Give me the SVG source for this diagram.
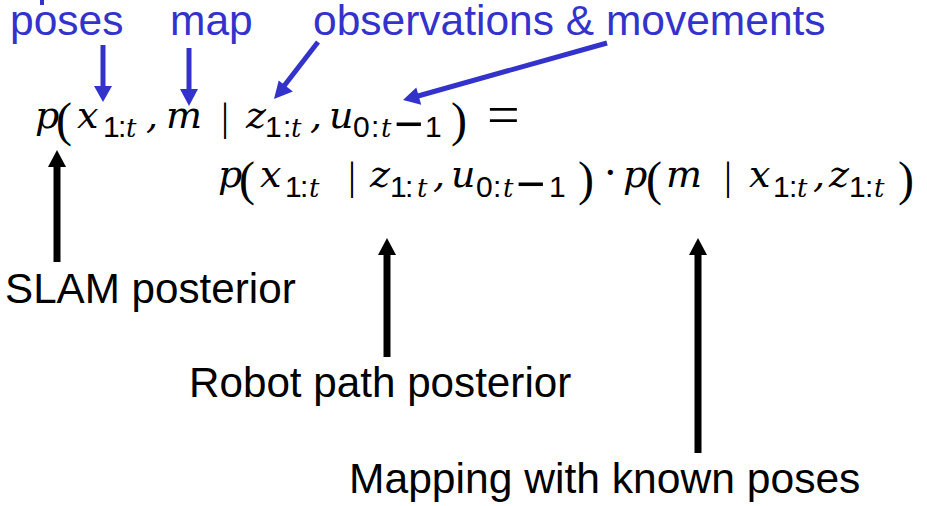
<svg xmlns="http://www.w3.org/2000/svg" width="927" height="506" viewBox="0 0 927 506">
<style>
.lbl{font-family:"Liberation Sans",Arial,sans-serif}
.blue{fill:#3333cc;font-size:42.5px}
.blk{fill:#000;font-size:42.2px}
.math{fill:#000}
.mi{font-family:"DejaVu Serif","Liberation Serif",serif;font-style:italic;font-size:38px}
.mp{font-family:"Liberation Serif","Times New Roman",serif;font-size:48px}
.bar{font-family:"Liberation Serif","Times New Roman",serif;font-size:40px}
.sd{font-family:"Liberation Sans",Arial,sans-serif;font-size:30px}
.st{font-family:"DejaVu Serif","Liberation Serif",serif;font-style:italic;font-size:26px}
.mn{font-family:"Liberation Sans",Arial,sans-serif;font-size:50px}
.eq{font-family:"Liberation Serif","Times New Roman",serif;font-size:58px}
.dot{font-family:"Liberation Serif","Times New Roman",serif;font-size:44px}
.bshaft{stroke:#3333cc;stroke-width:5;fill:none}
.bhead{fill:#3333cc}
.kshaft{stroke:#000;stroke-width:7;fill:none}
.khead{fill:#000}
</style>
<rect width="927" height="506" fill="#fff"/>

<g id="poses-label"><text class="lbl blue" x="10" y="35">poses</text></g>
<g id="map-label"><text class="lbl blue" x="170" y="35">map</text></g>
<g id="obs-label"><text class="lbl blue" x="313" y="35">observations &amp; movements</text></g>

<g id="formula-line1" class="math">
<text>
<tspan class="mi" x="35" y="128">p</tspan><tspan class="mp" x="56" y="136">(</tspan><tspan class="mi" x="77" y="128">x</tspan><tspan class="sd" x="103" y="137">1</tspan><tspan class="sd" x="118" y="137">:</tspan><tspan class="st" x="126" y="137">t</tspan><tspan class="mi" x="146" y="128">,</tspan><tspan class="mi" x="166" y="128">m</tspan><tspan class="bar" x="221" y="130">|</tspan><tspan class="mi" x="246" y="128">z</tspan><tspan class="sd" x="265" y="137">1</tspan><tspan class="sd" x="283" y="137">:</tspan><tspan class="st" x="291" y="137">t</tspan><tspan class="mi" x="310" y="128">,</tspan><tspan class="mi" x="329" y="128">u</tspan><tspan class="sd" x="353" y="137">0</tspan><tspan class="sd" x="371" y="137">:</tspan><tspan class="st" x="381" y="137">t</tspan><tspan class="mn" x="394" y="141">−</tspan><tspan class="sd" x="425" y="137">1</tspan><tspan class="mp" x="451" y="136">)</tspan><tspan class="eq" x="487" y="134">=</tspan>
</text>
</g>

<g id="formula-line2" class="math">
<text>
<tspan class="mi" x="218" y="187">p</tspan><tspan class="mp" x="239" y="195">(</tspan><tspan class="mi" x="260" y="187">x</tspan><tspan class="sd" x="285" y="197">1</tspan><tspan class="sd" x="300" y="197">:</tspan><tspan class="st" x="309" y="197">t</tspan><tspan class="bar" x="348" y="189">|</tspan><tspan class="mi" x="370" y="187">z</tspan><tspan class="sd" x="390" y="197">1</tspan><tspan class="sd" x="405" y="197">:</tspan><tspan class="st" x="417" y="197">t</tspan><tspan class="mi" x="433" y="187">,</tspan><tspan class="mi" x="451" y="187">u</tspan><tspan class="sd" x="476" y="197">0</tspan><tspan class="sd" x="493" y="197">:</tspan><tspan class="st" x="503" y="197">t</tspan><tspan class="mn" x="516" y="201">−</tspan><tspan class="sd" x="549" y="197">1</tspan><tspan class="mp" x="578" y="195">)</tspan><tspan class="dot" x="603" y="187">·</tspan><tspan class="mi" x="623" y="187">p</tspan><tspan class="mp" x="646" y="195">(</tspan><tspan class="mi" x="666" y="187">m</tspan><tspan class="bar" x="724" y="189">|</tspan><tspan class="mi" x="749" y="187">x</tspan><tspan class="sd" x="773" y="197">1</tspan><tspan class="sd" x="789" y="197">:</tspan><tspan class="st" x="797" y="197">t</tspan><tspan class="mi" x="813" y="187">,</tspan><tspan class="mi" x="829" y="187">z</tspan><tspan class="sd" x="849" y="197">1</tspan><tspan class="sd" x="865" y="197">:</tspan><tspan class="st" x="874" y="197">t</tspan><tspan class="mp" x="898" y="195">)</tspan>
</text>
</g>

<g id="slam-label"><text class="lbl blk" x="5" y="303">SLAM posterior</text></g>
<g id="robot-label"><text class="lbl blk" x="189" y="397">Robot path posterior</text></g>
<g id="mapping-label"><text class="lbl blk" x="349" y="493" style="font-size:42.6px">Mapping with known poses</text></g>

<g id="connectors">
<rect x="40" y="0" width="4" height="5" fill="#3333cc"/>
<line class="bshaft" x1="103" y1="45" x2="103" y2="88"/>
<polygon class="bhead" points="94,86 112,86 103,102"/>
<line class="bshaft" x1="189" y1="48" x2="189" y2="91"/>
<polygon class="bhead" points="180,89 198,89 189,106"/>
<line class="bshaft" x1="318" y1="42" x2="284" y2="86"/>
<polygon class="bhead" points="274,99 278.7,80.4 292.9,91.4"/>
<line class="bshaft" x1="607" y1="43" x2="418" y2="96"/>
<polygon class="bhead" points="403,100 416.3,87.4 421.2,104.7"/>
<line class="kshaft" x1="57" y1="165" x2="57" y2="262"/>
<polygon class="khead" points="48,167 66,167 57,150"/>
<line class="kshaft" x1="387" y1="253" x2="387" y2="357"/>
<polygon class="khead" points="378,255 396,255 387,238"/>
<line class="kshaft" x1="698" y1="253" x2="698" y2="453"/>
<polygon class="khead" points="689,255 707,255 698,238"/>
</g>
</svg>
